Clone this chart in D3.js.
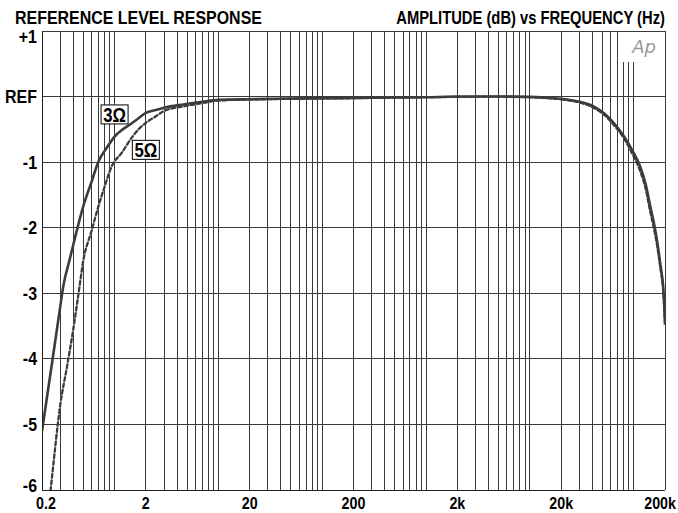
<!DOCTYPE html>
<html>
<head>
<meta charset="utf-8">
<script src="https://cdn.jsdelivr.net/npm/d3@7"></script>
<style>
  body { margin: 0; background: #fff; }
  svg { display: block; }
  text { font-family: "Liberation Sans", Arial, sans-serif; font-weight: bold; fill: #000; }
</style>
</head>
<body>
<div id="chart"></div>
<script>
// CONSTANTS
const width = 678;
const height = 513;
const margin = { top: 31, right: 13, bottom: 23, left: 42 };
const lineColor = "#3a3a3a";
const condense = 0.84; // fake a condensed face

// tick labels
const xTickValues = [0.2, 2, 20, 200, 2000, 20000, 200000];
const xTickLabels = ["0.2", "2", "20", "200", "2k", "20k", "200k"];
const yTickValues = [1, 0, -1, -2, -3, -4, -5, -6];
const yTickLabels = ["+1", "REF", "-1", "-2", "-3", "-4", "-5", "-6"];

// 3 ohm trace (Hz, dB)
const freq3 = [0.2, 0.25, 0.3, 0.32, 0.37, 0.43, 0.5, 0.6, 0.7, 0.85, 1.0, 1.2, 1.4, 1.7, 2, 2.5, 3, 4.6, 7, 10,
  20, 50, 100, 200, 500, 1000, 2000, 5000, 10000, 15000, 20000, 30000, 41000, 52000, 64000, 80000, 96000,
  115000, 130000, 144000, 156000, 167000, 180000, 194000, 200000];
const db3 = [-5.1, -4.06, -3.2, -2.9, -2.48, -2.06, -1.67, -1.3, -0.99, -0.77, -0.61, -0.5, -0.43, -0.33, -0.25,
  -0.205, -0.17, -0.12, -0.08, -0.05, -0.04, -0.03, -0.025, -0.02, -0.015, -0.01, 0, 0, -0.005, -0.02, -0.035,
  -0.08, -0.15, -0.26, -0.4, -0.6, -0.81, -1.06, -1.33, -1.67, -1.92, -2.18, -2.55, -3.0, -3.48];

// 5 ohm trace (Hz, dB)
const freq5 = [0.2, 0.242, 0.3, 0.35, 0.4, 0.45, 0.5, 0.6, 0.7, 0.8, 0.94, 1.17, 1.46, 1.7, 2, 2.5, 3, 4.6, 7, 10,
  20, 50, 100, 200, 500, 1000, 2000, 5000, 10000, 15000, 20000, 30000, 41000, 52000, 64000, 80000, 96000,
  115000, 130000, 144000, 156000, 167000, 180000, 194000, 200000];
const db5 = [-7.2, -6.0, -4.7, -4.1, -3.55, -3.0, -2.5, -2.05, -1.67, -1.38, -1.06, -0.86, -0.63, -0.5, -0.4,
  -0.3, -0.22, -0.15, -0.1, -0.06, -0.045, -0.035, -0.03, -0.025, -0.015, -0.01, -0.005, 0, -0.01, -0.025, -0.04,
  -0.09, -0.17, -0.28, -0.43, -0.63, -0.86, -1.13, -1.4, -1.75, -2.0, -2.25, -2.6, -3.05, -3.45];

const svg = d3
  .select("#chart")
  .append("svg")
  .attr("width", width)
  .attr("height", height);

const x = d3
  .scaleLog()
  .domain([0.2, 200000])
  .range([margin.left, width - margin.right]);

const y = d3
  .scaleLinear()
  .domain([-6, 1])
  .range([height - margin.bottom, margin.top]);

// put a text at (px, py), squeezed horizontally by s (or to a target width)
const placeText = (sel, px, py, s, target) => {
  sel.each(function (d, i) {
    const node = this;
    const len = node.getComputedTextLength();
    const k = target ? target / len : s;
    const tx = typeof px === "function" ? px(d, i) : px;
    const ty = typeof py === "function" ? py(d, i) : py;
    d3.select(node).attr("transform", `translate(${tx},${ty}) scale(${k},1)`);
  });
};

// log grid: 1..9 times each decade
const gridX = [];
for (let e = -1; e <= 5; e++) {
  for (let m = 1; m <= 9; m++) {
    const v = +(m * Math.pow(10, e)).toPrecision(3);
    if (v >= 0.2 && v <= 200000) gridX.push(v);
  }
}

svg
  .append("g")
  .selectAll("line")
  .data(gridX)
  .join("line")
  .attr("x1", (d) => x(d))
  .attr("x2", (d) => x(d))
  .attr("y1", margin.top)
  .attr("y2", height - margin.bottom)
  .attr("stroke", lineColor)
  .attr("stroke-width", 1)
  .attr("shape-rendering", "crispEdges");

svg
  .append("g")
  .selectAll("line")
  .data(yTickValues)
  .join("line")
  .attr("x1", margin.left)
  .attr("x2", width - margin.right)
  .attr("y1", (d) => y(d))
  .attr("y2", (d) => y(d))
  .attr("stroke", lineColor)
  .attr("stroke-width", 1)
  .attr("shape-rendering", "crispEdges");

// Ap logo box covers the top right corner of the grid
const right = width - margin.right;
svg
  .append("rect")
  .attr("x", right - 46)
  .attr("y", margin.top + 1)
  .attr("width", 45)
  .attr("height", 30)
  .attr("fill", "#fff");
svg
  .append("text")
  .attr("x", right - 9)
  .attr("y", margin.top + 22)
  .attr("text-anchor", "end")
  .style("font-family", "DejaVu Sans, sans-serif")
  .style("font-weight", "normal")
  .style("font-style", "italic")
  .style("font-size", "18px")
  .style("fill", "#9a9a9a")
  .text("Ap");

// clip traces to the plot
svg
  .append("clipPath")
  .attr("id", "plot-clip")
  .append("rect")
  .attr("x", margin.left)
  .attr("y", margin.top)
  .attr("width", width - margin.left - margin.right)
  .attr("height", height - margin.top - margin.bottom);

const line = d3
  .line()
  .x((d) => x(d[0]))
  .y((d) => y(d[1]))
  .curve(d3.curveMonotoneX);

const pts5 = freq5.map((f, i) => [f, db5[i]]);
const pts3 = freq3.map((f, i) => [f, db3[i]]);

const traces = svg.append("g").attr("clip-path", "url(#plot-clip)");

traces
  .append("path")
  .attr("d", line(pts5))
  .attr("fill", "none")
  .attr("stroke", "#8a8a8a")
  .attr("stroke-width", 1.6);
traces
  .append("path")
  .attr("d", line(pts5))
  .attr("fill", "none")
  .attr("stroke", "#3a3a3a")
  .attr("stroke-width", 2.2)
  .attr("stroke-dasharray", "5,1.5");
traces
  .append("path")
  .attr("d", line(pts3))
  .attr("fill", "none")
  .attr("stroke", "#3c3c3c")
  .attr("stroke-width", 2.6);

// axis frame
svg
  .append("path")
  .attr("d", `M${margin.left},${margin.top}V${height - margin.bottom}H${right}`)
  .attr("fill", "none")
  .attr("stroke", "#222")
  .attr("stroke-width", 1)
  .attr("shape-rendering", "crispEdges");

// trace labels
const addLabel = (f, db, txt) => {
  const g = svg.append("g").attr("transform", `translate(${x(f)},${y(db)})`);
  g.append("rect")
    .attr("x", -13.5)
    .attr("y", -10)
    .attr("width", 27)
    .attr("height", 19)
    .attr("fill", "#fff")
    .attr("stroke", "#000")
    .attr("stroke-width", 1);
  g.append("text")
    .attr("text-anchor", "middle")
    .style("font-size", "20px")
    .text(txt)
    .call(placeText, 0, 7, condense);
};
addLabel(1.0, -0.28, "3Ω");
addLabel(2.0, -0.82, "5Ω");

// y tick labels
svg
  .append("g")
  .selectAll("text")
  .data(yTickValues)
  .join("text")
  .attr("text-anchor", "end")
  .attr("dominant-baseline", "central")
  .style("font-size", "19px")
  .text((d, i) => yTickLabels[i])
  .call(
    placeText,
    margin.left - 5,
    (d) => Math.min(Math.max(y(d), margin.top + 6), height - margin.bottom - 4),
    condense
  );

// x tick labels (first and last nudged to stay on the page)
const lastX = xTickValues.length - 1;
svg
  .append("g")
  .selectAll("text")
  .data(xTickValues)
  .join("text")
  .attr("text-anchor", (d, i) => (i === 0 ? "start" : i === lastX ? "end" : "middle"))
  .style("font-size", "17px")
  .text((d, i) => xTickLabels[i])
  .call(
    placeText,
    (d, i) => (i === 0 ? x(d) - 6 : i === lastX ? width - 2 : x(d)),
    height - 4,
    condense
  );

// titles
svg
  .append("text")
  .style("font-size", "18px")
  .text("REFERENCE LEVEL RESPONSE")
  .call(placeText, 15, 24, 1, 247);

svg
  .append("text")
  .attr("text-anchor", "end")
  .style("font-size", "18px")
  .text("AMPLITUDE (dB) vs FREQUENCY (Hz)")
  .call(placeText, right, 24, 1, 269);
</script>
</body>
</html>
